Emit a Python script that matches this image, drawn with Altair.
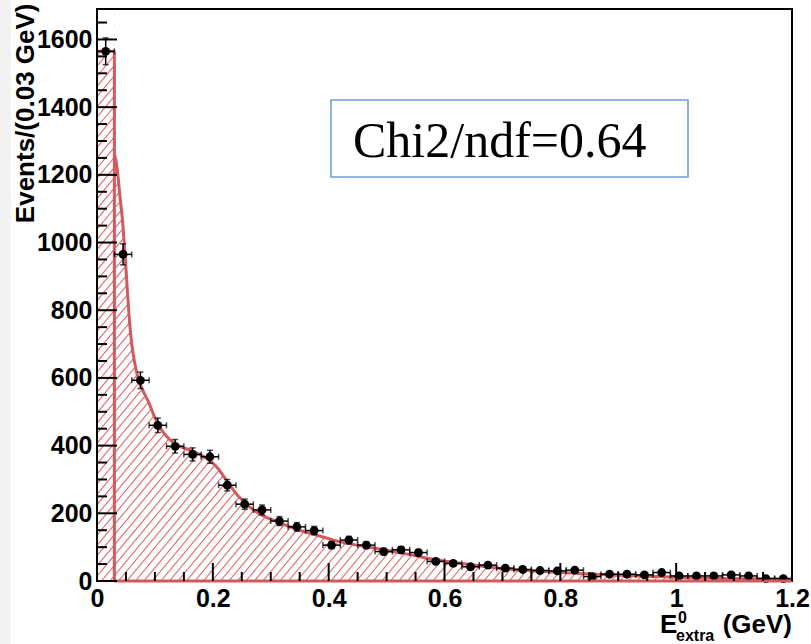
import altair as alt
import numpy as np
import pandas as pd

# ---------------- data ----------------
bin_centers = [0.015, 0.045, 0.075, 0.105, 0.135, 0.165, 0.195, 0.225, 0.255, 0.285,
               0.315, 0.345, 0.375, 0.405, 0.435, 0.465, 0.495, 0.525, 0.555, 0.585,
               0.615, 0.645, 0.675, 0.705, 0.735, 0.765, 0.795, 0.825, 0.855, 0.885,
               0.915, 0.945, 0.975, 1.005, 1.035, 1.065, 1.095, 1.125, 1.155, 1.185]
counts = [1565, 965, 593, 460, 398, 374, 367, 283, 227, 210,
          177, 160, 149, 106, 121, 106, 87, 92, 84, 58,
          52, 42, 47, 38, 34, 31, 30, 32, 13, 20,
          20, 18, 25, 15, 15, 15, 18, 15, 7, 7]
half_bin = 0.015

fit_x = [0.030, 0.033, 0.036, 0.040, 0.044, 0.048, 0.052, 0.056, 0.060, 0.065,
         0.070, 0.080, 0.090, 0.100, 0.110, 0.120, 0.130, 0.140, 0.150, 0.160,
         0.170, 0.180, 0.190, 0.200, 0.210, 0.220, 0.230, 0.240, 0.250, 0.270,
         0.290, 0.310, 0.330, 0.350, 0.380, 0.410, 0.440, 0.470, 0.500, 0.540,
         0.580, 0.620, 0.660, 0.700, 0.750, 0.800, 0.850, 0.900, 0.950, 1.000,
         1.050, 1.100, 1.150, 1.200]
fit_y = [1260, 1240, 1200, 1130, 1066, 975, 870, 770, 700, 645,
         605, 560, 525, 482, 450, 428, 412, 400, 393, 387,
         380, 372, 361, 348, 330, 306, 282, 259, 240, 210,
         190, 176, 162, 150, 135, 120, 109, 100, 91, 78,
         64, 54, 45, 37, 30, 25, 21, 17, 14, 11,
         9, 7, 6, 5]

first_bin_lo, first_bin_hi, first_bin_h = 0.0, 0.03, 1565

y_major = [0, 200, 400, 600, 800, 1000, 1200, 1400, 1600]
y_minor = [50, 100, 150, 250, 300, 350, 450, 500, 550, 650, 700, 750, 850, 900, 950,
           1050, 1100, 1150, 1250, 1300, 1350, 1450, 1500, 1550, 1650]
x_major = [0, 0.2, 0.4, 0.6, 0.8, 1.0, 1.2]
x_minor = [0.05, 0.1, 0.15, 0.25, 0.3, 0.35, 0.45, 0.5, 0.55, 0.65, 0.7, 0.75,
           0.85, 0.9, 0.95, 1.05, 1.1, 1.15]

x_domain = [0, 1.2]
y_domain = [0, 1690]
chi2_text = "Chi2/ndf=0.64"
y_title = "Events/(0.03 GeV)"

# ---------------- layout ----------------
W, H = 695, 572
RED = "#d05a5e"
HATCH = "#e2666a"
LABEL_FONT = "Liberation Sans"

xs = alt.Scale(domain=x_domain, nice=False, zero=False)
ys = alt.Scale(domain=y_domain, nice=False, zero=False)
x_axis = alt.Axis(values=x_major, format="~g", title=None)
y_axis = alt.Axis(values=y_major, format="d", title=y_title,
                  titleFont=LABEL_FONT, titleFontSize=26, titleFontWeight="bold",
                  titleAngle=270, titleAlign="right", titleBaseline="middle",
                  titleX=-72, titleY=-6, titleColor="black")


def X(field):
    return alt.X(field, type="quantitative", scale=xs, axis=x_axis)


def Y(field):
    return alt.Y(field, type="quantitative", scale=ys, axis=y_axis)


pts = pd.DataFrame({"x": bin_centers, "y": counts})
pts["err"] = np.sqrt(pts["y"])
pts["xlo"] = pts["x"] - half_bin
pts["xhi"] = pts["x"] + half_bin
pts["ylo"] = pts["y"] - pts["err"]
pts["yhi"] = pts["y"] + pts["err"]

fit = pd.DataFrame({"x": fit_x, "y": fit_y, "top": y_domain[1]})
fb = pd.DataFrame({"x0": [first_bin_lo], "x1": [first_bin_hi], "y": [first_bin_h],
                   "top": [y_domain[1]], "zero": [0], "xend": [x_domain[1]]})

# decorative hatch pattern (diagonal lines), drawn over the plot then masked above the fit
px_per_x = W / (x_domain[1] - x_domain[0])
spacing = 8.5 / px_per_x
run = (H / 1.2) / px_per_x
h0 = np.arange(-run - 0.05, x_domain[1] + 0.02, spacing)
hatch = pd.DataFrame({"x0": h0, "x1": h0 + run, "y0": 0.0, "y1": float(y_domain[1])})

one = pd.DataFrame({"a": [0]})

# ---------------- layers ----------------
strip = alt.Chart(one).mark_rect(color="#f2f2f2").encode(
    x=alt.value(-97), x2=alt.value(-86), y=alt.value(-9), y2=alt.value(H + 63))

hatch_layer = alt.Chart(hatch).mark_rule(color=HATCH, strokeWidth=1.1, clip=True).encode(
    x=X("x0"), x2="x1:Q", y=Y("y0"), y2="y1:Q")

mask_curve = alt.Chart(fit).mark_area(color="white", interpolate="monotone", clip=True,
                                      opacity=1).encode(x=X("x"), y=Y("y"), y2="top:Q")

mask_bin = alt.Chart(fb).mark_rect(color="white", clip=True).encode(
    x=X("x0"), x2="x1:Q", y=Y("y"), y2="top:Q")

bin_vert = alt.Chart(fb).mark_rule(color=RED, strokeWidth=3).encode(
    x=X("x1"), y=Y("zero"), y2="y:Q")
bin_top = alt.Chart(fb).mark_rule(color=RED, strokeWidth=3).encode(
    x=X("x0"), x2="x1:Q", y=Y("y"))

curve = alt.Chart(fit).mark_line(color=RED, strokeWidth=3, interpolate="monotone").encode(
    x=X("x"), y=Y("y"))

ebx = alt.Chart(pts).mark_rule(color="black", strokeWidth=1.5).encode(
    x=X("xlo"), x2="xhi:Q", y=Y("y"))
eby = alt.Chart(pts).mark_rule(color="black", strokeWidth=1.5).encode(
    x=X("x"), y=Y("ylo"), y2="yhi:Q")
cap_xlo = alt.Chart(pts).mark_tick(orient="vertical", size=6, thickness=1.5, color="black").encode(
    x=X("xlo"), y=Y("y"))
cap_xhi = alt.Chart(pts).mark_tick(orient="vertical", size=6, thickness=1.5, color="black").encode(
    x=X("xhi"), y=Y("y"))
cap_ylo = alt.Chart(pts).mark_tick(orient="horizontal", size=6, thickness=1.5, color="black").encode(
    x=X("x"), y=Y("ylo"))
cap_yhi = alt.Chart(pts).mark_tick(orient="horizontal", size=6, thickness=1.5, color="black").encode(
    x=X("x"), y=Y("yhi"))
dots = alt.Chart(pts).mark_circle(size=78, color="black", opacity=1).encode(
    x=X("x"), y=Y("y"))

frame = alt.Chart(one).mark_rect(fill="white", fillOpacity=0, stroke="black", strokeWidth=2).encode(
    x=alt.value(0), x2=alt.value(W), y=alt.value(0), y2=alt.value(H))

base_red = alt.Chart(fb).mark_rule(color=RED, strokeWidth=3).encode(
    x=X("x1"), x2="xend:Q", y=Y("zero"))

ymaj = alt.Chart(pd.DataFrame({"v": y_major})).mark_rule(color="black", strokeWidth=2).encode(
    y=Y("v"), x=alt.value(0), x2=alt.value(20))
ymin = alt.Chart(pd.DataFrame({"v": y_minor})).mark_rule(color="black", strokeWidth=2).encode(
    y=Y("v"), x=alt.value(0), x2=alt.value(10))
xmaj = alt.Chart(pd.DataFrame({"v": x_major})).mark_rule(color="black", strokeWidth=2).encode(
    x=X("v"), y=alt.value(H), y2=alt.value(H - 18))
xmin = alt.Chart(pd.DataFrame({"v": x_minor})).mark_rule(color="black", strokeWidth=2).encode(
    x=X("v"), y=alt.value(H), y2=alt.value(H - 9))

box = alt.Chart(one).mark_rect(fill="white", stroke="#6d9fd6", strokeWidth=1.6).encode(
    x=alt.value(234), x2=alt.value(591), y=alt.value(91), y2=alt.value(168))
box_text = alt.Chart(one).mark_text(font="Liberation Serif", fontSize=50, align="left",
                                    baseline="alphabetic", color="black").encode(
    x=alt.value(256), y=alt.value(148), text=alt.value(chi2_text))

t_E = alt.Chart(one).mark_text(font=LABEL_FONT, fontWeight="bold", fontSize=26, align="left",
                               baseline="alphabetic", color="black").encode(
    x=alt.value(563), y=alt.value(624), text=alt.value("E"))
t_sup = alt.Chart(one).mark_text(font=LABEL_FONT, fontWeight="bold", fontSize=16, align="left",
                                 baseline="alphabetic", color="black").encode(
    x=alt.value(581), y=alt.value(614), text=alt.value("0"))
t_sub = alt.Chart(one).mark_text(font=LABEL_FONT, fontWeight="bold", fontSize=16, align="left",
                                 baseline="alphabetic", color="black").encode(
    x=alt.value(579), y=alt.value(632), text=alt.value("extra"))
t_gev = alt.Chart(one).mark_text(font=LABEL_FONT, fontWeight="bold", fontSize=26, align="right",
                                 baseline="alphabetic", color="black").encode(
    x=alt.value(W), y=alt.value(624), text=alt.value("(GeV)"))

chart = alt.layer(
    strip, hatch_layer, mask_curve, mask_bin, bin_vert, bin_top, curve,
    ebx, eby, cap_xlo, cap_xhi, cap_ylo, cap_yhi, dots,
    frame, base_red, ymaj, ymin, xmaj, xmin,
    box, box_text, t_E, t_sup, t_sub, t_gev,
).properties(
    width=W, height=H,
    autosize=alt.AutoSizeParams(type="none"),
    padding={"left": 97, "top": 9, "right": 19, "bottom": 63},
    background="white",
).configure_view(stroke=None).configure_axis(
    grid=False, domain=False, ticks=False, tickSize=0,
    labelFont=LABEL_FONT, labelFontWeight="bold", labelFontSize=25, labelColor="black",
    labelPadding=5, labelOverlap=False, labelFlush=False, zindex=1,
)

chart.save("out.html", embed_options={"renderer": "svg", "actions": False})
